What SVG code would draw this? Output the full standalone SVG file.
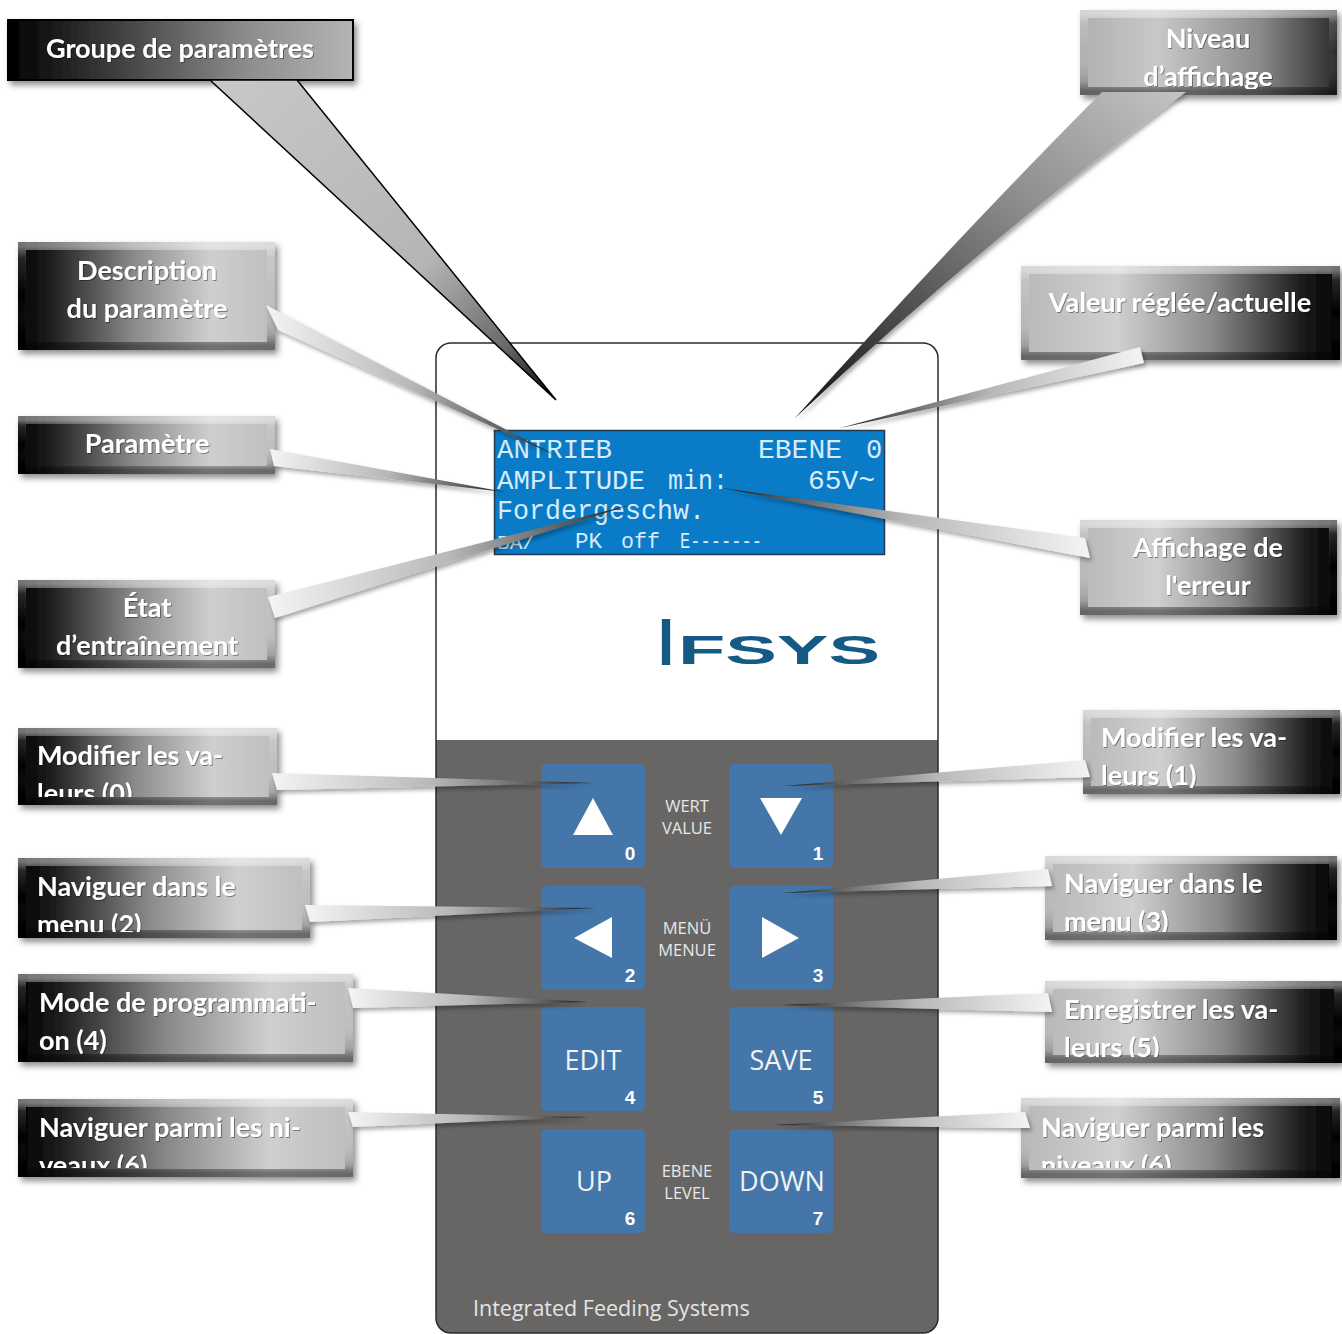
<svg xmlns="http://www.w3.org/2000/svg" width="1342" height="1334" viewBox="0 0 1342 1334">
<defs>
<style>
.lbl{font-family:Lato,"Open Sans","Liberation Sans",sans-serif;font-weight:700;font-size:27px;fill:#fff;filter:url(#ts)}
.c{text-anchor:middle}
.bev{fill:none;stroke:url(#bev);stroke-width:8}
.box{filter:url(#sh)}
.btn{fill:#4476a9}
.key{font-family:"Open Sans","Liberation Sans",sans-serif;font-size:27px;fill:#f2f2f2;text-anchor:middle}
.sm{font-family:"Open Sans","Liberation Sans",sans-serif;font-size:16.5px;fill:#e8e8e8;text-anchor:middle}
.num{font-family:"Liberation Sans",Arial,sans-serif;font-weight:700;font-size:19px;fill:#fff;text-anchor:middle}
.lcd{font-family:"Liberation Mono","DejaVu Sans Mono",monospace;font-size:27px;fill:#d6ebfb}
.tri{fill:#fff}
.tail{filter:url(#tsh)}
</style>
<linearGradient id="gL" x1="0" y1="0" x2="1" y2="0">
<stop offset="0" stop-color="#000"/><stop offset="0.12" stop-color="#1c1c1c"/><stop offset="0.45" stop-color="#8a8a8a"/><stop offset="0.75" stop-color="#cfcfcf"/><stop offset="1" stop-color="#bdbdbd"/>
</linearGradient>
<linearGradient id="gR" x1="0" y1="0" x2="1" y2="0">
<stop offset="0" stop-color="#b8b8b8"/><stop offset="0.3" stop-color="#d0d0d0"/><stop offset="0.6" stop-color="#8a8a8a"/><stop offset="0.88" stop-color="#1c1c1c"/><stop offset="1" stop-color="#000"/>
</linearGradient>
<linearGradient id="gG" x1="0" y1="0" x2="1" y2="0">
<stop offset="0" stop-color="#000"/><stop offset="0.3" stop-color="#3c3c3c"/><stop offset="0.7" stop-color="#8e8e8e"/><stop offset="1" stop-color="#b4b4b4"/>
</linearGradient>
<linearGradient id="gN" x1="0" y1="0" x2="1" y2="0">
<stop offset="0" stop-color="#b0b0b0"/><stop offset="0.3" stop-color="#c8c8c8"/><stop offset="0.7" stop-color="#8a8a8a"/><stop offset="1" stop-color="#2c2c2c"/>
</linearGradient>
<linearGradient id="bev" x1="0" y1="0" x2="0" y2="1">
<stop offset="0" stop-color="#fff" stop-opacity="0.45"/><stop offset="0.12" stop-color="#fff" stop-opacity="0.15"/><stop offset="0.5" stop-color="#fff" stop-opacity="0"/><stop offset="0.88" stop-color="#000" stop-opacity="0.15"/><stop offset="1" stop-color="#000" stop-opacity="0.45"/>
</linearGradient>
<linearGradient id="tL" x1="0" y1="0" x2="1" y2="0">
<stop offset="0" stop-color="#f4f4f4"/><stop offset="0.5" stop-color="#b8b8b8"/><stop offset="0.85" stop-color="#555"/><stop offset="1" stop-color="#111"/>
</linearGradient>
<linearGradient id="tR" x1="1" y1="0" x2="0" y2="0">
<stop offset="0" stop-color="#f4f4f4"/><stop offset="0.5" stop-color="#b8b8b8"/><stop offset="0.85" stop-color="#555"/><stop offset="1" stop-color="#111"/>
</linearGradient>
<linearGradient id="tG" x1="0" y1="0" x2="1" y2="1">
<stop offset="0" stop-color="#c8c8c8"/><stop offset="0.6" stop-color="#b5b5b5"/><stop offset="0.85" stop-color="#666"/><stop offset="1" stop-color="#000"/>
</linearGradient>
<linearGradient id="tN" x1="1" y1="0" x2="0" y2="1">
<stop offset="0" stop-color="#c4c4c4"/><stop offset="0.4" stop-color="#8a8a8a"/><stop offset="1" stop-color="#111"/>
</linearGradient>
<filter id="sh" x="-10%" y="-10%" width="130%" height="140%"><feDropShadow dx="3" dy="4" stdDeviation="3" flood-color="#000" flood-opacity="0.45"/></filter>
<filter id="tsh" x="-10%" y="-60%" width="120%" height="220%"><feDropShadow dx="2" dy="3" stdDeviation="2" flood-color="#000" flood-opacity="0.35"/></filter>
<filter id="ts" x="-5%" y="-20%" width="110%" height="150%"><feDropShadow dx="1" dy="1" stdDeviation="0.7" flood-color="#000" flood-opacity="0.4"/></filter>
<clipPath id="bodyClip"><rect x="436" y="343" width="502" height="990" rx="15"/></clipPath>
<clipPath id="cN"><rect x="1080" y="10" width="257" height="79"/></clipPath>
<clipPath id="c6"><rect x="18" y="728" width="259" height="69"/></clipPath>
<clipPath id="c7"><rect x="18" y="858" width="292" height="74"/></clipPath>
<clipPath id="c9"><rect x="18" y="1099" width="335" height="69"/></clipPath>
<clipPath id="c12"><rect x="1083" y="710" width="257" height="78"/></clipPath>
<clipPath id="c13"><rect x="1045" y="856" width="292" height="76"/></clipPath>
<clipPath id="c14"><rect x="1045" y="981" width="297" height="76"/></clipPath>
<clipPath id="c15"><rect x="1021" y="1098" width="319" height="70"/></clipPath>
</defs>
<rect width="1342" height="1334" fill="#fff"/>

<g id="device">
<rect x="436" y="343" width="502" height="990" rx="15" fill="#fff"/>
<rect x="436" y="740" width="502" height="600" fill="#676665" clip-path="url(#bodyClip)"/>
<rect x="436" y="343" width="502" height="990" rx="15" fill="none" stroke="#2b2b2b" stroke-width="1.5"/>
<g id="lcd">
<rect x="494.5" y="430.5" width="390" height="124" fill="#0a7bc6" stroke="#233a52" stroke-width="1.5"/>
<text class="lcd" x="497" y="458" textLength="115" lengthAdjust="spacingAndGlyphs">ANTRIEB</text>
<text class="lcd" x="758" y="458" textLength="84" lengthAdjust="spacingAndGlyphs">EBENE</text>
<text class="lcd" x="866" y="458">0</text>
<text class="lcd" x="497" y="489" textLength="148" lengthAdjust="spacingAndGlyphs">AMPLITUDE</text>
<text class="lcd" x="668" y="489" textLength="60" lengthAdjust="spacingAndGlyphs">min:</text>
<text class="lcd" x="808" y="489" textLength="67" lengthAdjust="spacingAndGlyphs">65V~</text>
<text class="lcd" x="497" y="519" textLength="208" lengthAdjust="spacingAndGlyphs">Fordergeschw.</text>
<text class="lcd" x="497" y="549" style="font-size:20px" textLength="38" lengthAdjust="spacingAndGlyphs">BA/</text>
<text class="lcd" x="575" y="548" style="font-size:22px" textLength="27" lengthAdjust="spacingAndGlyphs">PK</text>
<text class="lcd" x="621" y="548" style="font-size:22px" textLength="39" lengthAdjust="spacingAndGlyphs">off</text>
<text class="lcd" x="680" y="548" style="font-size:22px" textLength="82" lengthAdjust="spacingAndGlyphs">E-------</text>
</g>
<g id="logo" fill="#155a85">
<text x="658" y="665" font-family="Liberation Sans, Arial, sans-serif" font-size="66" font-weight="700" textLength="16" lengthAdjust="spacingAndGlyphs">I</text>
<text x="678" y="664" font-family="Liberation Sans, Arial, sans-serif" font-weight="700" font-size="40" textLength="202" lengthAdjust="spacingAndGlyphs">FSYS</text>
</g>
<g id="key0"><rect class="btn" x="541" y="764" width="104" height="104" rx="5"/><polygon class="tri" points="573,835 613,835 593,798"/><text class="num" x="630" y="860">0</text></g>
<g id="key1"><rect class="btn" x="729" y="764" width="104" height="104" rx="5"/><polygon class="tri" points="760,798 802,798 781,835"/><text class="num" x="818" y="860">1</text></g>
<g id="key2"><rect class="btn" x="541" y="886" width="104" height="104" rx="5"/><polygon class="tri" points="574,938 612,917 612,958"/><text class="num" x="630" y="982">2</text></g>
<g id="key3"><rect class="btn" x="729" y="886" width="104" height="104" rx="5"/><polygon class="tri" points="762,917 799,938 762,958"/><text class="num" x="818" y="982">3</text></g>
<g id="key4"><rect class="btn" x="541" y="1007" width="104" height="104" rx="5"/><text class="key" x="593" y="1070">EDIT</text><text class="num" x="630" y="1104">4</text></g>
<g id="key5"><rect class="btn" x="729" y="1007" width="104" height="104" rx="5"/><text class="key" x="781" y="1070">SAVE</text><text class="num" x="818" y="1104">5</text></g>
<g id="key6"><rect class="btn" x="541" y="1129" width="104" height="104" rx="5"/><text class="key" x="594" y="1191">UP</text><text class="num" x="630" y="1225">6</text></g>
<g id="key7"><rect class="btn" x="729" y="1129" width="104" height="104" rx="5"/><text class="key" x="782" y="1191">DOWN</text><text class="num" x="818" y="1225">7</text></g>
<text class="sm" x="687" y="812">WERT</text><text class="sm" x="687" y="834">VALUE</text>
<text class="sm" x="687" y="934">MENÜ</text><text class="sm" x="687" y="956">MENUE</text>
<text class="sm" x="687" y="1177">EBENE</text><text class="sm" x="687" y="1199">LEVEL</text>
<text x="473" y="1316" font-family="Open Sans, Liberation Sans, sans-serif" font-size="21.5" fill="#e4e4e4">Integrated Feeding Systems</text>
</g>

<g id="n-groupe"><rect x="8" y="20" width="345" height="60" fill="url(#gG)" stroke="#000" stroke-width="2" class="box"/><text class="lbl c" x="180" y="58">Groupe de paramètres</text></g>
<g id="n-niveau"><rect class="box" x="1080" y="10" width="257" height="85" fill="url(#gN)"/><rect class="bev" x="1084" y="14" width="249" height="77"/><g clip-path="url(#cN)"><text class="lbl c" x="1208" y="48">Niveau</text><text class="lbl c" x="1208" y="86">d’affichage</text></g></g>
<g id="n-description"><rect class="box" x="18" y="242" width="257" height="108" fill="url(#gL)"/><rect class="bev" x="22" y="246" width="249" height="100"/><text class="lbl c" x="147" y="280">Description</text><text class="lbl c" x="147" y="318">du paramètre</text></g>
<g id="n-parametre"><rect class="box" x="18" y="416" width="257" height="58" fill="url(#gL)"/><rect class="bev" x="22" y="420" width="249" height="50"/><text class="lbl c" x="147" y="453">Paramètre</text></g>
<g id="n-etat"><rect class="box" x="18" y="580" width="257" height="88" fill="url(#gL)"/><rect class="bev" x="22" y="584" width="249" height="80"/><text class="lbl c" x="147" y="617">État</text><text class="lbl c" x="147" y="655">d’entraînement</text></g>
<g id="n-mod0"><rect class="box" x="18" y="728" width="259" height="77" fill="url(#gL)"/><rect class="bev" x="22" y="732" width="251" height="69"/><g clip-path="url(#c6)"><text class="lbl" x="37" y="765">Modifier les va-</text><text class="lbl" x="37" y="803">leurs (0)</text></g></g>
<g id="n-nav2"><rect class="box" x="18" y="858" width="292" height="80" fill="url(#gL)"/><rect class="bev" x="22" y="862" width="284" height="72"/><g clip-path="url(#c7)"><text class="lbl" x="37" y="896">Naviguer dans le</text><text class="lbl" x="37" y="934">menu (2)</text></g></g>
<g id="n-mode4"><rect class="box" x="18" y="974" width="335" height="88" fill="url(#gL)"/><rect class="bev" x="22" y="978" width="327" height="80"/><text class="lbl" x="39" y="1012">Mode de programmati-</text><text class="lbl" x="39" y="1050">on (4)</text></g>
<g id="n-nav6l"><rect class="box" x="18" y="1099" width="335" height="78" fill="url(#gL)"/><rect class="bev" x="22" y="1103" width="327" height="70"/><g clip-path="url(#c9)"><text class="lbl" x="39" y="1137">Naviguer parmi les ni-</text><text class="lbl" x="39" y="1175">veaux (6)</text></g></g>
<g id="n-valeur"><rect class="box" x="1021" y="266" width="319" height="94" fill="url(#gR)"/><rect class="bev" x="1025" y="270" width="311" height="86"/><text class="lbl c" x="1180" y="312">Valeur réglée/actuelle</text></g>
<g id="n-erreur"><rect class="box" x="1080" y="520" width="257" height="95" fill="url(#gR)"/><rect class="bev" x="1084" y="524" width="249" height="87"/><text class="lbl c" x="1208" y="557">Affichage de</text><text class="lbl c" x="1208" y="595">l'erreur</text></g>
<g id="n-mod1"><rect class="box" x="1083" y="710" width="257" height="84" fill="url(#gR)"/><rect class="bev" x="1087" y="714" width="249" height="76"/><g clip-path="url(#c12)"><text class="lbl" x="1101" y="747">Modifier les va-</text><text class="lbl" x="1101" y="785">leurs (1)</text></g></g>
<g id="n-nav3"><rect class="box" x="1045" y="856" width="292" height="84" fill="url(#gR)"/><rect class="bev" x="1049" y="860" width="284" height="76"/><g clip-path="url(#c13)"><text class="lbl" x="1064" y="893">Naviguer dans le</text><text class="lbl" x="1064" y="931">menu (3)</text></g></g>
<g id="n-enreg5"><rect class="box" x="1045" y="981" width="297" height="82" fill="url(#gR)"/><rect class="bev" x="1049" y="985" width="289" height="74"/><g clip-path="url(#c14)"><text class="lbl" x="1064" y="1019">Enregistrer les va-</text><text class="lbl" x="1064" y="1057">leurs (5)</text></g></g>
<g id="n-nav6r"><rect class="box" x="1021" y="1098" width="319" height="80" fill="url(#gR)"/><rect class="bev" x="1025" y="1102" width="311" height="72"/><g clip-path="url(#c15)"><text class="lbl" x="1041" y="1137">Naviguer parmi les</text><text class="lbl" x="1041" y="1175">niveaux (6)</text></g></g>

<g id="connectors">
<polygon points="210,80 297,80 556,400" fill="url(#tG)" stroke="#000" stroke-width="1.5" stroke-linejoin="miter"/>
<path class="tail" d="M1102,92 Q 960,235 795,418 Q 985,240 1186,92 Z" fill="url(#tN)"/>
<polygon class="tail" points="266,305 278,330 557,456" fill="url(#tL)"/>
<polygon class="tail" points="270,449 274,466 505,492" fill="url(#tL)"/>
<polygon class="tail" points="268,597 275,618 630,505" fill="url(#tL)"/>
<polygon class="tail" points="272,773 277,790 592,783" fill="url(#tL)"/>
<polygon class="tail" points="305,905 310,922 595,908" fill="url(#tL)"/>
<polygon class="tail" points="348,988 353,1008 588,1002" fill="url(#tL)"/>
<polygon class="tail" points="348,1112 353,1127 588,1117" fill="url(#tL)"/>
<polygon class="tail" points="1140,347 1144,363 840,428" fill="url(#tR)"/>
<polygon class="tail" points="1085,538 1090,558 722,488" fill="url(#tR)"/>
<polygon class="tail" points="1085,760 1090,777 783,786" fill="url(#tR)"/>
<polygon class="tail" points="1048,869 1052,886 783,893" fill="url(#tR)"/>
<polygon class="tail" points="1048,993 1052,1012 781,1005" fill="url(#tR)"/>
<polygon class="tail" points="1025,1112 1030,1128 773,1125" fill="url(#tR)"/>
</g>
</svg>
